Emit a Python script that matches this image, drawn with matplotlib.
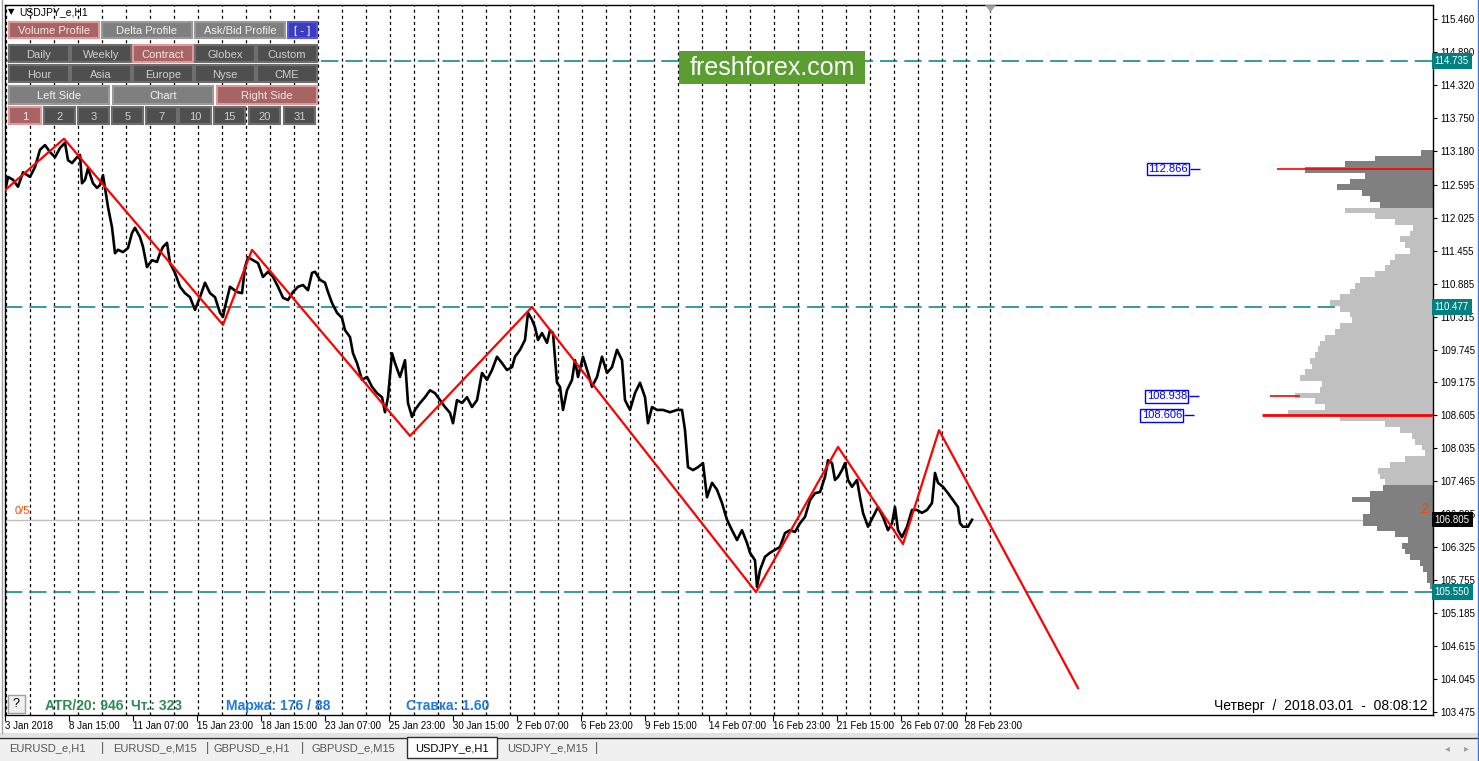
import matplotlib
matplotlib.use("Agg")
import matplotlib.pyplot as plt
import matplotlib.transforms as mtransforms
from matplotlib.patches import Rectangle, Polygon
import numpy as np

plt.rcParams['font.family'] = ['Liberation Sans', 'DejaVu Sans']
plt.rcParams['lines.scale_dashes'] = False

# --- данные (часы от 3 Jan 23:00, цена) ---
price_hours = [0, 3, 8, 13, 18, 25, 30, 35, 40, 45,
               50, 55, 60, 63, 67, 72, 75, 77, 80, 83,
               88, 92, 95, 98, 100, 103, 107, 110, 113, 118,
               123, 127, 130, 135, 138, 142, 147, 152, 155, 158,
               162, 165, 170, 175, 180, 185, 190, 195, 200, 205,
               210, 215, 218, 220, 225, 232, 237, 240, 243, 248,
               253, 258, 263, 268, 273, 278, 283, 288, 293, 298,
               303, 307, 310, 315, 320, 323, 327, 332, 337, 340,
               345, 348, 352, 357, 362, 367, 372, 377, 380, 383,
               387, 390, 395, 400, 403, 407, 410, 415, 420, 425,
               430, 435, 440, 445, 448, 452, 457, 462, 467, 472,
               477, 482, 487, 492, 497, 502, 507, 510, 515, 520,
               523, 527, 530, 533, 537, 542, 545, 548, 552, 555,
               558, 562, 567, 570, 573, 578, 583, 587, 592, 597,
               602, 607, 612, 617, 620, 625, 630, 635, 640, 643,
               647, 652, 658, 665, 672, 677, 680, 683, 688, 693,
               698, 702, 707, 712, 717, 722, 727, 732, 737, 742,
               745, 750, 752, 755, 760, 765, 770, 775, 780, 785,
               790, 795, 800, 805, 810, 815, 820, 823, 827, 830,
               833, 837, 840, 843, 847, 852, 855, 858, 863, 868,
               873, 878, 883, 887, 890, 893, 897, 902, 907, 912,
               917, 922, 927, 930, 933, 938, 943, 948, 953, 955,
               958, 963, 967]
price_close = [112.47, 112.73, 112.68, 112.56, 112.81, 112.73, 112.90, 113.20, 113.28, 113.16,
               113.07, 113.23, 113.32, 113.02, 112.97, 113.07, 113.11, 112.62, 112.68, 112.88,
               112.62, 112.54, 112.59, 112.76, 112.54, 112.21, 111.86, 111.41, 111.47, 111.43,
               111.50, 111.76, 111.85, 111.69, 111.52, 111.17, 111.29, 111.26, 111.41, 111.52,
               111.59, 111.24, 111.07, 110.83, 110.72, 110.65, 110.43, 110.65, 110.90, 110.72,
               110.65, 110.38, 110.31, 110.48, 110.83, 110.74, 110.72, 111.17, 111.34, 111.29,
               111.24, 111.00, 111.09, 111.00, 110.83, 110.64, 110.60, 110.74, 110.83, 110.86,
               110.77, 111.07, 111.09, 110.95, 110.90, 110.74, 110.55, 110.38, 110.29, 110.08,
               109.96, 109.68, 109.51, 109.22, 109.27, 109.10, 108.99, 108.92, 108.66, 108.92,
               109.68, 109.51, 109.27, 109.56, 108.82, 108.58, 108.70, 108.82, 108.92, 109.04,
               108.99, 108.87, 108.75, 108.65, 108.47, 108.87, 108.82, 108.92, 108.75, 108.87,
               109.34, 109.22, 109.39, 109.62, 109.51, 109.39, 109.44, 109.62, 109.74, 109.91,
               110.38, 110.26, 110.13, 109.91, 110.03, 109.86, 110.08, 110.03, 109.17, 109.10,
               108.70, 109.04, 109.22, 109.56, 109.27, 109.62, 109.34, 109.10, 109.27, 109.62,
               109.34, 109.44, 109.74, 109.56, 108.87, 108.70, 108.99, 109.17, 108.92, 108.47,
               108.75, 108.70, 108.70, 108.66, 108.70, 108.70, 108.35, 107.71, 107.66, 107.71,
               107.78, 107.19, 107.44, 107.32, 107.09, 106.80, 106.62, 106.45, 106.62, 106.40,
               106.23, 106.10, 105.64, 105.93, 106.16, 106.23, 106.28, 106.33, 106.57, 106.62,
               106.59, 106.74, 106.85, 107.14, 107.26, 107.28, 107.54, 107.83, 107.78, 107.49,
               107.54, 107.66, 107.78, 107.49, 107.37, 107.49, 107.19, 106.92, 106.68, 106.85,
               107.02, 106.85, 106.62, 106.74, 107.02, 106.62, 106.50, 106.68, 106.97, 106.97,
               106.92, 106.97, 107.09, 107.61, 107.44, 107.37, 107.26, 107.14, 107.02, 106.74,
               106.68, 106.68, 106.80]

# зигзаг
zz_hours = [0, 59, 218, 247, 405, 527, 751, 833, 898, 934, 1073]
zz_price = [112.50, 113.39, 110.17, 111.47, 108.25, 110.48, 105.55, 108.06, 106.38, 108.35, 103.89]

# профиль объёма (шаг 0.1 от 113.15 вниз)
profile_top = 113.15
profile_step = 0.1
profile_volume = [12, 58, 88, 128, 68, 83, 96, 71, 63, 53,
                  88, 58, 38, 20, 23, 33, 28, 23, 38, 43,
                  48, 58, 73, 78, 83, 93, 103, 93, 83, 81,
                  93, 98, 108, 113, 115, 118, 123, 121, 128, 133,
                  111, 113, 138, 118, 108, 145, 93, 48, 33, 21,
                  18, 11, 8, 28, 43, 55, 53, 48, 50, 63,
                  81, 63, 63, 70, 70, 56, 38, 25, 31, 28,
                  23, 13, 10, 6, 6, 3]
value_area = (107.37, 112.16)

poc_levels = [112.866, 108.938, 108.606]
poc_from = [1272, 1265, 1257]
poc_to = [1428, 1295, 1428]
poc_width = [1.2, 1.2, 2.0]
poc_labels = ['112.866', '108.938', '108.606']
poc_label_end = [1183, 1182, 1177]

teal_levels = [114.735, 110.477, 105.550]
bid_level = 106.805

y_ticks = [115.460, 114.890, 114.320, 113.750, 113.180, 112.595, 112.025, 111.455,
           110.885, 110.315, 109.745, 109.175, 108.605, 108.035, 107.465, 106.895,
           106.325, 105.755, 105.185, 104.615, 104.045, 103.475]
x_labels = ['3 Jan 2018', '8 Jan 15:00', '11 Jan 07:00', '15 Jan 23:00', '18 Jan 15:00',
            '23 Jan 07:00', '25 Jan 23:00', '30 Jan 15:00', '2 Feb 07:00', '6 Feb 23:00',
            '9 Feb 15:00', '14 Feb 07:00', '16 Feb 23:00', '21 Feb 15:00', '26 Feb 07:00',
            '28 Feb 23:00']
x_ticks = [64 * i for i in range(len(x_labels))]
day_breaks = [1 + 24 * i for i in range(42)]

W, H = 1479, 761
fig = plt.figure(figsize=(W / 100, H / 100), dpi=100)
fig.patch.set_facecolor('white')


def fx(px):
    return px / W


def fy(py):
    return 1 - py / H


ax = fig.add_axes([fx(5), fy(715), fx(1433) - fx(5), fy(5) - fy(715)])
ax.set_xlim(0, 1428)
ax.set_ylim(103.424, 115.703)
for s in ax.spines.values():
    s.set_color('black')
    s.set_linewidth(1)

# разделители дней
for d in day_breaks:
    ax.axvline(d, color='black', lw=0.9, dashes=(2.2, 2.2), zorder=1)

# уровни
for lv in teal_levels:
    ax.axhline(lv, color='#008080', lw=1.1, dashes=(12.5, 5), zorder=2)
ax.axhline(bid_level, color='#c0c0c0', lw=1, zorder=2)

# профиль
levels = profile_top - profile_step * np.arange(len(profile_volume))
pcolors = ['#c0c0c0' if value_area[0] < p < value_area[1] else '#808080' for p in levels]
ax.barh(levels, [-v for v in profile_volume], left=1428, height=profile_step,
        color=pcolors, edgecolor='none', zorder=2)
for lv, a, b, w in zip(poc_levels, poc_from, poc_to, poc_width):
    ax.hlines(lv, a, b, color='red', lw=w, zorder=3)
for lv, txt, xe in zip(poc_levels, poc_labels, poc_label_end):
    ax.text(xe, lv, txt, ha='right', va='center', fontsize=8, color='#0000ff', zorder=6,
            bbox=dict(boxstyle='square,pad=0.12', fc='white', ec='#0000ff', lw=1))
    ax.hlines(lv, xe + 2, xe + 12, color='#0000ff', lw=1, zorder=6)

# цена и зигзаг
ax.plot(price_hours, price_close, color='black', lw=1.9, zorder=4)
ax.plot(zz_hours, zz_price, color='red', lw=1.6, zorder=5)

# оси
ax.yaxis.tick_right()
ax.set_yticks(y_ticks)
ax.set_yticklabels(['%.3f' % v for v in y_ticks])
ax.tick_params(axis='y', direction='out', length=3, width=0.8, pad=2, labelsize=7)
ax.set_xticks(x_ticks)
ax.set_xticklabels(x_labels)
for lbl in ax.get_xticklabels():
    lbl.set_ha('left')
ax.tick_params(axis='x', direction='out', length=4, width=0.8, pad=0.5, labelsize=7)

trans = mtransforms.blended_transform_factory(ax.transAxes, ax.transData)
for lv in teal_levels:
    ax.text(1.0012, lv, '%.3f' % lv, transform=trans, ha='left', va='center', fontsize=7,
            color='white', zorder=10, clip_on=False,
            bbox=dict(boxstyle='square,pad=0.3', fc='#008080', ec='none'))
ax.text(1.0012, bid_level, '%.3f' % bid_level, transform=trans, ha='left', va='center',
        fontsize=7, color='white', zorder=10, clip_on=False,
        bbox=dict(boxstyle='square,pad=0.3', fc='black', ec='none'))

ax.text(10, 106.95, '0/5', fontsize=8, color='#ff4500', va='center', zorder=6)
ax.text(1415, 106.98, '2', fontsize=11, color='#ff4500', va='center', ha='left', zorder=6)
ax.add_patch(Polygon([[980, 115.70], [991, 115.70], [985.5, 115.58]], closed=True,
                     fc='#a0a0a0', ec='none', zorder=6))

# --- интерфейс ---
def box(x0, y0, x1, y1, fc, ec='none', lw=0, z=8):
    fig.patches.append(Rectangle((fx(x0), fy(y1)), (x1 - x0) / W, (y1 - y0) / H,
                                 transform=fig.transFigure, fc=fc, ec=ec, lw=lw, zorder=z))


def label(x, y, s, **kw):
    fig.text(fx(x), fy(y), s, zorder=9, **kw)


styles = {
    'd': ('#4f4f4f', '#6e6e6e', '#cfcfcf'),
    'l': ('#7f7f7f', '#9a9a9a', '#f2f2f2'),
    'r': ('#a86464', '#dc9a9a', '#f5e6e6'),
    'b': ('#3c3cbe', '#5858e6', '#ffffff'),
}
buttons = [
    (9, 22, 99, 38, 'Volume Profile', 'r'), (102, 22, 192, 38, 'Delta Profile', 'l'),
    (195, 22, 285, 38, 'Ask/Bid Profile', 'l'), (288, 22, 317, 38, '[ - ]', 'b'),
    (9, 45, 69, 62, 'Daily', 'd'), (71, 45, 131, 62, 'Weekly', 'd'),
    (133, 45, 193, 62, 'Contract', 'r'), (195, 45, 255, 62, 'Globex', 'd'),
    (257, 45, 317, 62, 'Custom', 'd'),
    (9, 65, 69, 82, 'Hour', 'd'), (71, 65, 131, 82, 'Asia', 'd'),
    (133, 65, 193, 82, 'Europe', 'd'), (195, 65, 255, 82, 'Nyse', 'd'),
    (257, 65, 317, 82, 'CME', 'd'),
    (9, 86, 109, 104, 'Left Side', 'l'), (113, 86, 213, 104, 'Chart', 'l'),
    (217, 86, 317, 104, 'Right Side', 'r'),
    (9, 107, 41, 124, '1', 'r'), (44, 107, 75, 124, '2', 'd'), (78, 107, 109, 124, '3', 'd'),
    (112, 107, 143, 124, '5', 'd'), (146, 107, 177, 124, '7', 'd'),
    (179, 107, 211, 124, '10', 'd'), (214, 107, 245, 124, '15', 'd'),
    (249, 107, 280, 124, '20', 'd'), (284, 107, 315, 124, '31', 'd'),
]
for x0, y0, x1, y1, s, k in buttons:
    fc, ec, tc = styles[k]
    box(x0, y0, x1, y1, fc, ec, 1.5)
    label((x0 + x1) / 2, (y0 + y1) / 2 + 1, s, ha='center', va='center', fontsize=8, color=tc)

label(8, 12, '\u25bc', fontsize=6, va='center', color='black', family=['DejaVu Sans'])
label(19, 12, 'USDJPY_e,H1', fontsize=7.5, va='center', color='black')

box(679, 51, 865, 84, '#5a9e32')
label(772, 68, 'freshforex.com', ha='center', va='center', fontsize=18, color='white')

box(8, 695, 25, 713, '#f0f0f0', '#a0a0a0', 1)
label(16.5, 704, '?', ha='center', va='center', fontsize=9, color='black')
label(45, 706, 'ATR/20: 946', va='center', fontsize=10, fontweight='bold', color='#2e8b57')
label(131, 706, 'Чт.: 323', va='center', fontsize=10, fontweight='bold', color='#2e8b57')
label(226, 706, 'Маржа: 176 / 88', va='center', fontsize=10, fontweight='bold', color='#1e7ae0')
label(406, 706, 'Ставка: 1.60', va='center', fontsize=10, fontweight='bold', color='#1e7ae0')
label(1428, 706, 'Четверг  /  2018.03.01  -  08:08:12', ha='right', va='center',
      fontsize=10, color='black')

# вкладки
box(0, 733, 1479, 737, '#e3e3e3', z=1)
box(0, 737, 1479, 761, '#f0f0f0', z=1)
fig.add_artist(plt.Line2D([0, 1], [fy(737.5), fy(737.5)], transform=fig.transFigure,
                          color='#303030', lw=1, zorder=2))
box(407, 737, 497, 758, 'white', '#303030', 1, z=3)
tabs = [(47, 'EURUSD_e,H1'), (155, 'EURUSD_e,M15'), (252, 'GBPUSD_e,H1'),
        (353, 'GBPUSD_e,M15'), (452, 'USDJPY_e,H1'), (548, 'USDJPY_e,M15')]
for x, s in tabs:
    label(x, 748, s, ha='center', va='center', fontsize=8,
          color='black' if s == 'USDJPY_e,H1' else '#555555')
for x in [102, 207, 302, 597]:
    label(x, 748, '|', ha='center', va='center', fontsize=9, color='#555555')
label(1447, 748, '\u25c2', ha='center', va='center', fontsize=7, color='#a0a0a0', family=['DejaVu Sans'])
label(1466, 748, '\u25b8', ha='center', va='center', fontsize=7, color='#a0a0a0', family=['DejaVu Sans'])
fig.add_artist(plt.Line2D([fx(1477.5), fx(1477.5)], [0, 1], transform=fig.transFigure,
                          color='#3c78d8', lw=1, zorder=2))
fig.add_artist(plt.Line2D([fx(1.5), fx(1.5)], [fy(733), 1], transform=fig.transFigure,
                          color='#a0a0a0', lw=1, zorder=2))

fig.savefig('out.png', dpi=100)
